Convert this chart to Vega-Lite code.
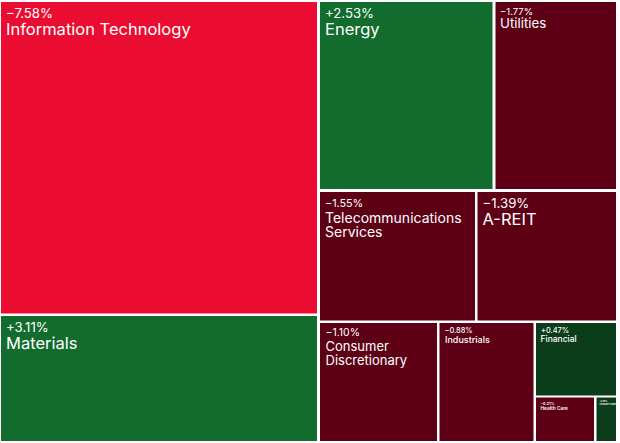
{
  "$schema": "https://vega.github.io/schema/vega-lite/v6.json",
  "width": 620,
  "height": 443,
  "padding": 0,
  "autosize": "none",
  "background": "white",
  "config": {"view": {"stroke": null}, "text": {"font": "Inter", "color": "white", "align": "left", "baseline": "alphabetic"}},
  "data": {
    "values": [
      {"sector": "Information Technology", "change": -7.58, "x0": 1, "x1": 317, "y0": 2, "y1": 313.5},
      {"sector": "Materials", "change": 3.11, "x0": 1, "x1": 317, "y0": 316, "y1": 441},
      {"sector": "Energy", "change": 2.53, "x0": 320, "x1": 492.5, "y0": 2, "y1": 189},
      {"sector": "Utilities", "change": -1.77, "x0": 495.5, "x1": 616, "y0": 2, "y1": 189},
      {"sector": "Telecommunications Services", "change": -1.55, "x0": 320, "x1": 475, "y0": 192, "y1": 320.5},
      {"sector": "A-REIT", "change": -1.39, "x0": 477.5, "x1": 616, "y0": 192, "y1": 320.5},
      {"sector": "Consumer Discretionary", "change": -1.10, "x0": 320, "x1": 437, "y0": 323, "y1": 441},
      {"sector": "Industrials", "change": -0.88, "x0": 439.5, "x1": 533.5, "y0": 323, "y1": 441},
      {"sector": "Financial", "change": 0.47, "x0": 536, "x1": 616, "y0": 323, "y1": 395.5},
      {"sector": "Health Care", "change": -0.21, "x0": 536, "x1": 594, "y0": 397.5, "y1": 441},
      {"sector": "Consumer Staples", "change": 0.09, "x0": 596.5, "x1": 616, "y0": 397.5, "y1": 441}
    ]
  },
  "transform": [
    {"calculate": "format(datum.change, '+.2f') + '%'", "as": "pct"},
    {"calculate": "split(datum.sector, ' ')", "as": "lines"}
  ],
  "encoding": {
    "x": {"field": "x0", "type": "quantitative", "scale": {"domain": [0, 620], "nice": false, "zero": false}, "axis": null},
    "y": {"field": "y0", "type": "quantitative", "scale": {"domain": [0, 443], "nice": false, "zero": false, "reverse": true}, "axis": null}
  },
  "layer": [
    {
      "mark": {"type": "rect"},
      "encoding": {
        "x2": {"field": "x1"},
        "y2": {"field": "y1"},
        "color": {"field": "change", "type": "quantitative", "scale": {"type": "threshold", "domain": [-3, 0, 1], "range": ["#EB0C32", "#5D0016", "#0B3D1A", "#116C2E"]}, "legend": null}
      }
    },
    {
      "transform": [{"filter": {"field": "sector", "oneOf": ["Information Technology", "Materials", "Energy", "A-REIT"]}}],
      "mark": {"type": "text", "fontSize": 13.2, "dx": 5, "dy": 16},
      "encoding": {"text": {"field": "pct"}}
    },
    {
      "transform": [{"filter": {"field": "sector", "oneOf": ["Information Technology", "Materials", "Energy", "A-REIT"]}}],
      "mark": {"type": "text", "fontSize": 16.5, "dx": 5, "dy": 33},
      "encoding": {"text": {"field": "sector"}}
    },
    {
      "transform": [{"filter": {"field": "sector", "oneOf": ["Telecommunications Services"]}}],
      "mark": {"type": "text", "fontSize": 10.8, "dx": 5, "dy": 14.5},
      "encoding": {"text": {"field": "pct"}}
    },
    {
      "transform": [{"filter": {"field": "sector", "oneOf": ["Telecommunications Services"]}}],
      "mark": {"type": "text", "fontSize": 14, "dx": 5, "dy": 30.5, "lineHeight": 14.5},
      "encoding": {"text": {"field": "lines"}}
    },
    {
      "transform": [{"filter": {"field": "sector", "oneOf": ["Consumer Discretionary"]}}],
      "mark": {"type": "text", "fontSize": 10.5, "dx": 5.5, "dy": 13},
      "encoding": {"text": {"field": "pct"}}
    },
    {
      "transform": [{"filter": {"field": "sector", "oneOf": ["Consumer Discretionary"]}}],
      "mark": {"type": "text", "fontSize": 13, "dx": 5.5, "dy": 27.5, "lineHeight": 14},
      "encoding": {"text": {"field": "lines"}}
    },
    {
      "transform": [{"filter": {"field": "sector", "oneOf": ["Utilities"]}}],
      "mark": {"type": "text", "fontSize": 9.5, "dx": 4.5, "dy": 12.6},
      "encoding": {"text": {"field": "pct"}}
    },
    {
      "transform": [{"filter": {"field": "sector", "oneOf": ["Utilities"]}}],
      "mark": {"type": "text", "fontSize": 13.3, "dx": 4.5, "dy": 26.4},
      "encoding": {"text": {"field": "sector"}}
    },
    {
      "transform": [{"filter": {"field": "sector", "oneOf": ["Industrials", "Financial"]}}],
      "mark": {"type": "text", "fontSize": 7.4, "fontWeight": 500, "dx": 5, "dy": 9.5},
      "encoding": {"text": {"field": "pct"}}
    },
    {
      "transform": [{"filter": {"field": "sector", "oneOf": ["Industrials"]}}],
      "mark": {"type": "text", "fontSize": 9, "fontWeight": 500, "dx": 5.5, "dy": 19.5},
      "encoding": {"text": {"field": "sector"}}
    },
    {
      "transform": [{"filter": {"field": "sector", "oneOf": ["Financial"]}}],
      "mark": {"type": "text", "fontSize": 8.5, "fontWeight": 500, "dx": 4.5, "dy": 18.5},
      "encoding": {"text": {"field": "sector"}}
    },
    {
      "transform": [{"filter": {"field": "sector", "oneOf": ["Health Care"]}}],
      "mark": {"type": "text", "fontSize": 3.8, "fontWeight": 600, "dx": 4.5, "dy": 7},
      "encoding": {"text": {"field": "pct"}}
    },
    {
      "transform": [{"filter": {"field": "sector", "oneOf": ["Health Care"]}}],
      "mark": {"type": "text", "fontSize": 4.8, "fontWeight": 600, "dx": 4.5, "dy": 12},
      "encoding": {"text": {"field": "sector"}}
    },
    {
      "transform": [{"filter": {"field": "sector", "oneOf": ["Consumer Staples"]}}],
      "mark": {"type": "text", "fontSize": 2, "fontWeight": 600, "dx": 3, "dy": 4.6},
      "encoding": {"text": {"field": "pct"}}
    },
    {
      "transform": [{"filter": {"field": "sector", "oneOf": ["Consumer Staples"]}}],
      "mark": {"type": "text", "fontSize": 2, "fontWeight": 600, "dx": 3, "dy": 7},
      "encoding": {"text": {"field": "sector"}}
    }
  ]
}
